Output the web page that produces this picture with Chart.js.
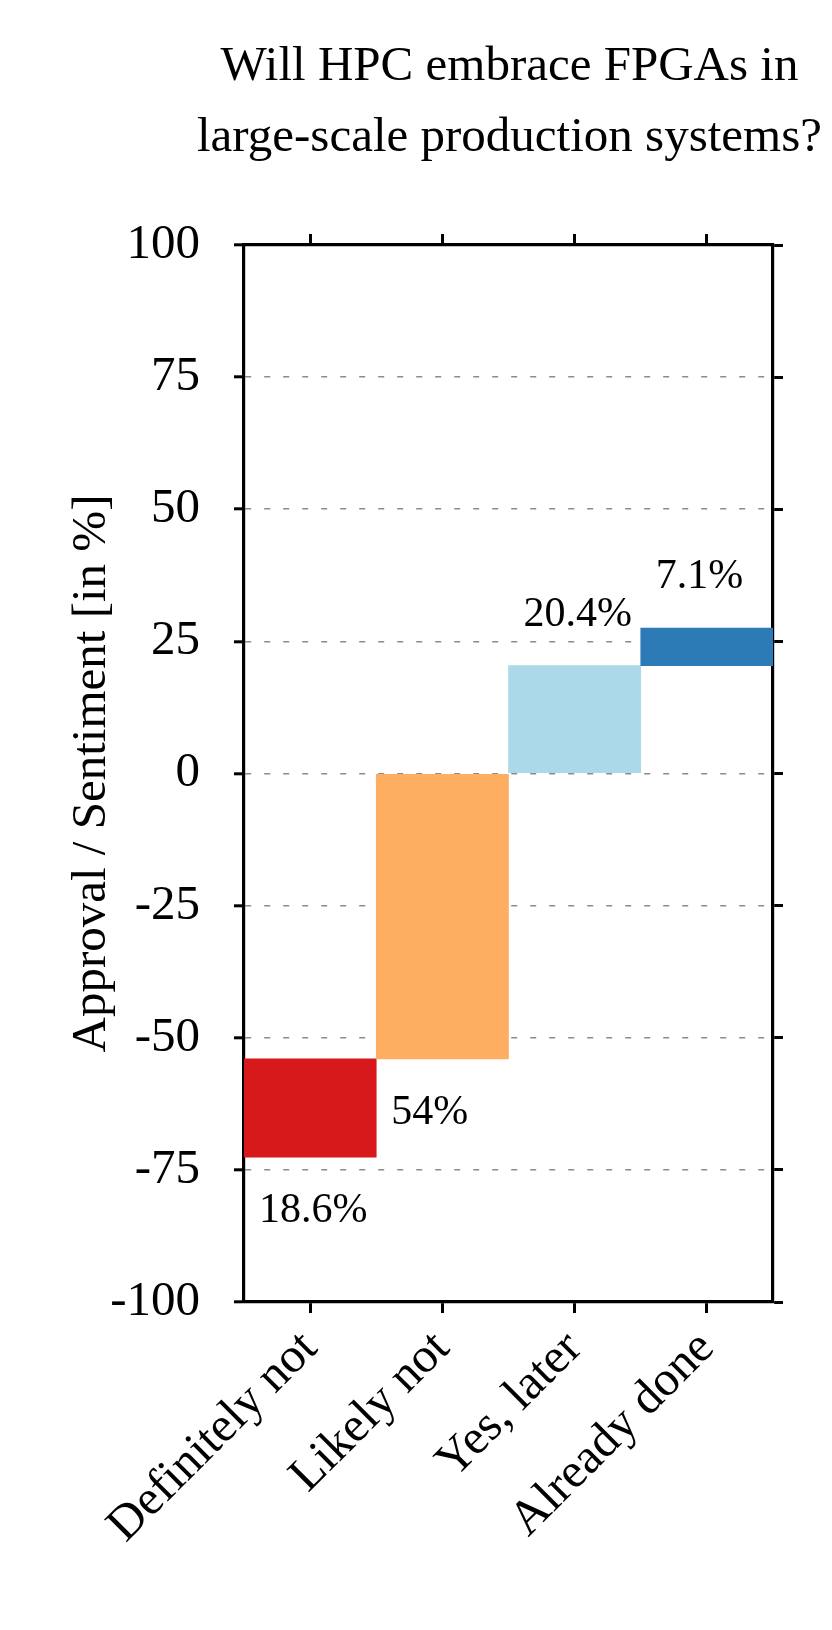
<!DOCTYPE html>
<html>
<head>
<meta charset="utf-8">
<script src="https://cdn.jsdelivr.net/npm/chart.js@4"></script>
<style>
  body { margin: 0; background: #fff; }
  #wrap { width: 832px; height: 1630px; }
</style>
</head>
<body>
<div id="wrap"><canvas id="sentimentChart"></canvas></div>
<script>
  // Data
  const categories = ['Definitely not', 'Likely not', 'Yes, later', 'Already done'];
  const shares = [18.6, 54, 20.4, 7.1];
  const sides = [-1, -1, 1, 1]; // -1 = stacked below zero, 1 = above zero
  const barColors = ['#d7191c', '#fdae61', '#abd9e9', '#2c7bb6'];
  const yTicks = [-100, -75, -50, -25, 0, 25, 50, 75, 100];
  const titleLines = ['Will HPC embrace FPGAs in', 'large-scale production systems?'];

  // Build the floating ranges (waterfall away from zero)
  const ranges = new Array(shares.length);
  let neg = 0;
  for (let i = shares.length - 1; i >= 0; i--) {
    if (sides[i] < 0) { ranges[i] = [neg - shares[i], neg]; neg -= shares[i]; }
  }
  let pos = 0;
  for (let i = 0; i < shares.length; i++) {
    if (sides[i] > 0) { ranges[i] = [pos, pos + shares[i]]; pos += shares[i]; }
  }

  const serif = '"Liberation Serif", "Times New Roman", serif';

  // Percent labels next to each bar
  const barLabels = {
    id: 'barLabels',
    afterDatasetsDraw(chart) {
      const ctx = chart.ctx;
      const meta = chart.getDatasetMeta(0);
      ctx.save();
      ctx.font = '42px ' + serif;
      ctx.fillStyle = '#000';
      ctx.textAlign = 'left';
      ctx.textBaseline = 'middle';
      meta.data.forEach((bar, i) => {
        const top = Math.min(bar.y, bar.base);
        const bottom = Math.max(bar.y, bar.base);
        const y = sides[i] < 0 ? bottom + 54 : top - 51;
        ctx.fillText(shares[i] + '%', bar.x - bar.width / 2 + 15, y);
      });
      ctx.restore();
    }
  };

  // Two-line title centred over the plot area
  const plotTitle = {
    id: 'plotTitle',
    afterDraw(chart) {
      const ctx = chart.ctx;
      const area = chart.chartArea;
      const cx = (area.left + area.right) / 2 + 1;
      ctx.save();
      ctx.font = '49px ' + serif;
      ctx.fillStyle = '#000';
      ctx.textAlign = 'center';
      ctx.textBaseline = 'middle';
      titleLines.forEach((line, i) => ctx.fillText(line, cx, 67 + i * 71));
      ctx.restore();
    }
  };

  const tickFont = { family: serif, size: 49 };
  const axisLine = { color: '#000', width: 3.2 };

  new Chart(document.getElementById('sentimentChart').getContext('2d'), {
    type: 'bar',
    data: {
      labels: categories,
      datasets: [{
        data: ranges,
        backgroundColor: barColors,
        borderWidth: 0,
        barPercentage: 1,
        categoryPercentage: 1
      }]
    },
    options: {
      responsive: true,
      maintainAspectRatio: false,
      animation: false,
      layout: { padding: 0 },
      plugins: { legend: { display: false }, tooltip: { enabled: false } },
      scales: {
        x: {
          position: 'bottom',
          offset: true,
          grid: { offset: false, drawOnChartArea: false, tickLength: 11, tickWidth: 3, tickColor: '#000' },
          border: axisLine,
          ticks: { font: tickFont, color: '#000', minRotation: 45, maxRotation: 45, padding: 7 },
          afterFit(scale) { scale.height = 328; }
        },
        x2: {
          type: 'category',
          position: 'top',
          offset: true,
          grid: { offset: false, drawOnChartArea: false, tickLength: 11, tickWidth: 3, tickColor: '#000' },
          border: axisLine,
          ticks: { display: false },
          afterFit(scale) { scale.height = 245; }
        },
        y: {
          position: 'left',
          min: -100,
          max: 100,
          afterBuildTicks(scale) { scale.ticks = yTicks.map(v => ({ value: v })); },
          grid: {
            color: c => (c.tick && Math.abs(c.tick.value) === 100) ? 'rgba(0,0,0,0)' : '#8c8c8c',
            lineWidth: 1.6,
            tickLength: 10,
            tickWidth: 3,
            tickColor: '#000'
          },
          border: { color: '#000', width: 3.2, dash: [6, 13] },
          ticks: { font: tickFont, color: '#000', padding: 34 },
          title: {
            display: true,
            text: 'Approval / Sentiment [in %]',
            font: { family: serif, size: 49 },
            color: '#000',
            padding: { top: 63, bottom: 0 }
          },
          afterFit(scale) { scale.width = 244; }
        },
        y2: {
          position: 'right',
          min: -100,
          max: 100,
          afterBuildTicks(scale) { scale.ticks = yTicks.map(v => ({ value: v })); },
          grid: { drawOnChartArea: false, tickLength: 10, tickWidth: 3, tickColor: '#000' },
          border: axisLine,
          ticks: { display: false },
          afterFit(scale) { scale.width = 59; }
        }
      }
    },
    plugins: [barLabels, plotTitle]
  });
</script>
</body>
</html>
